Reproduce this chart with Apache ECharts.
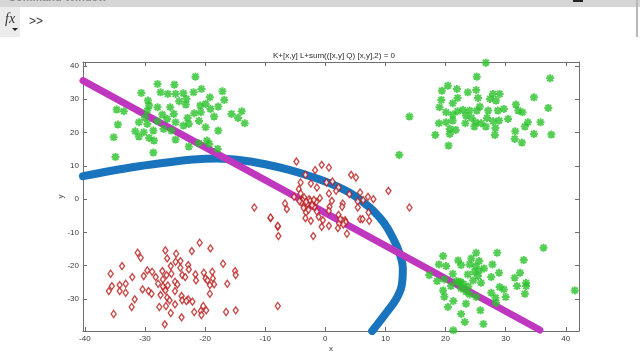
<!DOCTYPE html>
<html>
<head>
<meta charset="utf-8">
<script src="https://cdn.jsdelivr.net/npm/echarts@6/dist/echarts.min.js"></script>
<style>
html,body{margin:0;padding:0;background:#fff;}
#c{width:640px;height:360px;}
</style>
</head>
<body>
<div id="c"></div>
<script>
var titleText = 'K+[x,y] L+sum(([x,y] Q) [x,y],2) = 0';
var xTicks = [-40, -30, -20, -10, 0, 10, 20, 30, 40];
var yTicks = [-30, -20, -10, 0, 10, 20, 30, 40];

var greenUpperLeft = [
[-21.6,36.8],[-27.9,34.6],[-25.1,34.4],[-30.6,31.9],[-27.4,32.1],[-26.2,31.6],[-24.9,31.6],[-23.6,31.8],
[-21.9,32.1],[-20.6,33.1],[-17.1,32.4],[-19.2,30.6],[-16.8,29.8],[-29.5,29.6],[-24.3,29.4],[-23.1,30.1],
[-29.3,28.1],[-27.9,27.6],[-25.8,27.6],[-23.2,28.4],[-20.8,28.1],[-19.9,28.6],[-19.1,27.1],[-17.8,27.8],
[-34.7,26.9],[-33.5,26.4],[-29.6,26.6],[-27.1,25.4],[-25.2,25.6],[-21.8,25.8],[-20.7,26.1],[-15.6,25.6],
[-13.9,26.4],[-14.5,24.4],[-13.4,22.8],[-34.5,22.4],[-31.0,23.1],[-29.6,22.6],[-27.9,23.4],[-26.3,24.1],
[-24.9,23.1],[-22.9,24.4],[-22.7,22.6],[-23.6,22.1],[-19.9,21.6],[-31.6,20.4],[-30.2,20.1],[-28.6,20.6],
[-25.6,20.6],[-26.9,21.1],[-17.8,20.6],[-35.2,18.6],[-31.0,18.8],[-29.3,18.4],[-28.5,17.6],[-24.9,17.9],
[-19.7,17.6],[-19.3,16.6],[-22.7,15.8],[-21.05,16.8],[-17.9,15.1],[-28.6,14.0],[-34.9,12.7],[-30.0,24.5],
[-21.0,23.5],[-18.5,24.8]
];
var greenUpperRight = [
[26.7,41.0],[25.2,36.8],[37.4,36.3],[20.4,34.1],[19.4,32.6],[21.9,33.1],[23.7,32.1],[25.1,32.8],
[27.9,31.6],[29.0,31.6],[19.3,29.8],[22.0,30.4],[25.4,30.4],[27.4,30.1],[28.4,29.6],[34.7,30.6],
[21.2,28.8],[19.0,27.6],[25.7,27.8],[31.7,28.4],[37.1,27.4],[20.1,26.1],[22.0,26.4],[22.9,26.8],
[24.0,26.6],[25.2,26.6],[27.1,26.6],[28.7,26.6],[29.7,27.1],[32.1,26.6],[32.8,26.1],[14.0,24.8],
[21.2,25.4],[23.4,25.1],[24.3,24.4],[26.9,24.4],[30.4,24.1],[18.9,22.8],[20.1,23.1],[21.2,23.6],
[23.3,22.8],[25.0,23.1],[25.9,22.8],[27.9,23.4],[28.9,23.6],[33.7,23.1],[35.8,23.1],[24.8,21.8],
[26.7,21.8],[28.3,21.4],[33.2,21.8],[20.7,21.1],[21.7,20.8],[20.7,19.6],[31.6,20.4],[34.7,19.6],
[37.6,19.4],[18.3,19.3],[28.2,19.3],[31.5,18.1],[32.7,17.0],[20.5,16.1],[12.3,13.3]
];
var greenLowerRight = [
[36.3,-14.6],[19.6,-17.1],[25.1,-16.1],[28.6,-16.1],[24.3,-17.8],[22.1,-18.4],[25.6,-18.6],[33.0,-18.3],
[18.9,-19.6],[20.1,-20.1],[22.6,-19.8],[24.0,-19.6],[25.0,-20.1],[27.8,-19.6],[25.6,-21.4],[28.9,-22.1],
[32.4,-22.1],[17.3,-22.8],[21.2,-22.4],[23.7,-22.6],[25.4,-23.1],[27.6,-23.4],[31.5,-23.6],[18.6,-24.6],
[19.8,-24.1],[21.8,-24.6],[22.5,-24.8],[24.6,-24.4],[25.9,-25.1],[33.4,-25.1],[20.9,-26.1],[22.6,-26.8],
[29.0,-26.4],[29.7,-27.1],[31.9,-26.1],[33.4,-26.1],[19.6,-27.4],[23.4,-27.8],[24.0,-28.6],[27.6,-28.1],
[41.5,-27.4],[33.2,-28.4],[19.8,-29.3],[25.1,-29.4],[28.3,-29.6],[30.0,-29.4],[21.3,-30.6],[23.4,-31.4],
[28.4,-31.1],[20.4,-32.4],[25.8,-33.4],[22.6,-34.5],[23.2,-36.9],[26.3,-37.5],[21.3,-39.4],[23.0,-25.5],
[23.8,-26.2],[22.2,-25.0],[24.8,-21.8],[26.4,-20.8]
];
var redLowerLeft = [
[-20.9,-13.1],[-26.6,-15.4],[-22.2,-15.6],[-19.1,-14.8],[-24.8,-16.4],[-31.2,-16.1],[-30.7,-17.6],[-26.3,-17.8],
[-24.9,-18.8],[-24.1,-18.6],[-17.0,-19.4],[-33.8,-20.1],[-25.7,-20.1],[-22.8,-19.8],[-24.1,-20.6],[-22.7,-21.1],
[-29.6,-21.4],[-28.8,-21.8],[-27.1,-21.6],[-20.2,-22.1],[-18.8,-21.8],[-35.7,-22.4],[-30.2,-23.1],[-28.2,-23.4],
[-26.4,-22.8],[-25.6,-22.4],[-23.8,-22.8],[-21.6,-22.6],[-32.1,-23.4],[-23.3,-23.4],[-19.9,-23.8],[-18.7,-23.8],
[-15.0,-21.6],[-14.9,-22.8],[-27.0,-24.1],[-21.5,-24.4],[-19.6,-24.4],[-25.0,-24.8],[-27.8,-25.4],[-34.2,-25.8],
[-33.2,-25.4],[-35.5,-26.1],[-24.6,-25.6],[-18.5,-25.6],[-16.3,-25.4],[-26.8,-26.8],[-19.2,-25.8],[-30.4,-27.1],
[-29.4,-27.6],[-26.6,-27.4],[-25.0,-27.6],[-36.0,-27.6],[-34.2,-27.6],[-33.2,-28.1],[-28.9,-28.4],[-19.2,-28.4],
[-27.4,-28.8],[-23.9,-29.1],[-26.3,-29.6],[-31.7,-30.1],[-25.9,-30.4],[-22.8,-30.1],[-23.8,-30.4],[-23.1,-30.6],
[-25.0,-31.6],[-22.1,-30.8],[-20.3,-32.1],[-32.2,-32.4],[-27.6,-32.4],[-26.5,-32.1],[-21.8,-33.9],[-20.7,-33.6],
[-20.6,-34.8],[-19.8,-33.4],[-35.2,-34.5],[-25.7,-34.2],[-16.5,-33.9],[-14.9,-33.4],[-23.9,-35.5],[-26.7,-37.6],
[-7.9,-32.1],[-27.0,-26.2],[-26.2,-25.9]
];
var redCenter = [
[-4.8,11.3],[-0.6,10.3],[0.6,9.5],[-1.7,8.7],[-3.3,7.3],[4.3,7.3],[5.1,6.5],[-4.1,5.0],
[-2.4,4.7],[0.2,5.0],[1.2,5.3],[2.2,3.5],[1.8,2.5],[-1.4,3.5],[-4.4,3.0],[-4.1,1.7],
[0.6,1.7],[4.0,1.5],[5.8,2.0],[7.1,0.7],[8.0,0.0],[10.5,2.5],[-5.2,0.7],[-2.7,0.0],
[-0.9,0.3],[1.1,-0.5],[2.9,-1.3],[5.4,-0.7],[6.3,-0.3],[-6.7,-1.3],[-11.8,-2.5],[-6.4,-3.0],
[-3.5,-1.7],[-3.0,-2.5],[-1.8,-2.3],[0.7,-2.3],[2.8,-2.3],[5.4,-2.5],[14.0,-2.5],[-3.2,-4.0],
[-1.4,-3.7],[0.6,-3.5],[2.2,-4.7],[7.2,-4.0],[-9.1,-5.7],[-3.3,-5.7],[-2.4,-6.5],[-1.1,-5.3],
[-0.4,-6.3],[3.3,-6.3],[5.8,-6.0],[6.2,-6.0],[7.3,-6.5],[2.3,-7.3],[0.6,-8.0],[-0.6,-8.3],
[2.1,-8.7],[-7.9,-8.3],[3.6,-10.4],[-7.8,-11.1],[-2.0,-11.1],[-3.5,0.5],[-2.5,-0.5],[-2.0,-1.0],
[-3.0,-1.5],[-1.5,-0.8],[2.9,-6.5],[3.4,-6.9],[-9.1,-5.5],[-7.9,-8.0],[-3.8,-0.3],[-4.0,-1.0],
[-3.2,-0.8],[-2.2,-1.8],[-2.8,-3.2],[-1.9,-0.2],[-3.6,-2.6],[2.5,-6.0],[3.0,-7.6],[-4.3,-0.6]
];
var decisionLine = [[-40.3, 35.6], [35.7, -39.3]];
var boundaryCurve = [
[-40.3,6.9],[-36,8.4],[-31,9.9],[-26,11.1],[-22,11.9],[-18,12.2],[-14,11.7],[-10,10.5],
[-6,8.8],[-2,6.6],[1,4.6],[4,2.0],[6,-0.5],[8,-3.5],[9.8,-7.2],[11.2,-11.5],
[12.3,-16],[12.9,-21],[12.7,-26],[11.8,-30],[10.2,-34],[7.8,-39.6]
];

var FONT = '"Liberation Sans", Arial, sans-serif';
var axisCol = '#6e6e6e';
var asterisk = 'path://M0,-1L0,1M-1,0L1,0M-0.72,-0.72L0.72,0.72M-0.72,0.72L0.72,-0.72';

function xAx(pos, showLabel) {
  return {
    type: 'value', position: pos, min: -40.3, max: 42.2,
    axisLine: {show: true, onZero: false, lineStyle: {color: axisCol, width: 1}},
    axisTick: {show: true, inside: true, length: 4, customValues: xTicks, lineStyle: {color: axisCol}},
    axisLabel: {show: showLabel, customValues: xTicks, fontSize: 8, color: '#3a3a3a', fontFamily: FONT, margin: 4},
    splitLine: {show: false},
    name: showLabel ? 'x' : '', nameLocation: 'middle', nameGap: 14, nameMoveOverlap: false,
    nameTextStyle: {fontSize: 8, color: '#3a3a3a', fontFamily: FONT}
  };
}
function yAx(pos, showLabel) {
  return {
    type: 'value', position: pos, min: -39.6, max: 41.2,
    axisLine: {show: true, onZero: false, lineStyle: {color: axisCol, width: 1}},
    axisTick: {show: true, inside: true, length: 4, customValues: yTicks, lineStyle: {color: axisCol}},
    axisLabel: {show: showLabel, customValues: yTicks, fontSize: 8, color: '#3a3a3a', fontFamily: FONT, margin: 4},
    splitLine: {show: false},
    name: showLabel ? 'y' : '', nameLocation: 'middle', nameGap: 18, nameRotate: 90, nameMoveOverlap: false,
    nameTextStyle: {fontSize: 8, color: '#3a3a3a', fontFamily: FONT}
  };
}

var greenStyle = {
  type: 'scatter', symbol: asterisk, symbolSize: 8, z: 5,
  itemStyle: {color: 'rgba(0,0,0,0)', borderColor: '#2bc22b', borderWidth: 2}
};
var redStyle = {
  type: 'scatter', symbol: 'diamond', symbolSize: [5, 7], z: 5,
  itemStyle: {color: '#ffffff', borderColor: '#b81c1c', borderWidth: 1.4}
};

var chart = echarts.init(document.getElementById('c'), null, {renderer: 'canvas'});
chart.setOption({
  animation: false,
  backgroundColor: '#ffffff',
  title: {
    text: titleText, left: 329, top: 47, textAlign: 'center',
    textStyle: {fontSize: 8, fontWeight: 'normal', color: '#2a2a2a', fontFamily: FONT}
  },
  grid: {left: 83, top: 62, right: 61, bottom: 29, containLabel: false},
  xAxis: [xAx('bottom', true), xAx('top', false)],
  yAxis: [yAx('left', true), yAx('right', false)],
  series: [
    {type: 'line', data: boundaryCurve, showSymbol: false, smooth: 0.4, z: 3,
     lineStyle: {color: '#1a74bd', width: 8, cap: 'round'}},
    {type: 'line', data: decisionLine, showSymbol: false, z: 4,
     lineStyle: {color: '#bf36bf', width: 7, cap: 'round'}},
    Object.assign({data: redLowerLeft}, redStyle),
    Object.assign({data: redCenter}, redStyle),
    Object.assign({data: greenUpperLeft}, greenStyle),
    Object.assign({data: greenUpperRight}, greenStyle),
    Object.assign({data: greenLowerRight}, greenStyle)
  ],
  graphic: [
    {type: 'rect', left: 0, top: 0, shape: {width: 640, height: 7}, style: {fill: '#d6d6d6'}, z: 10},
    {type: 'text', left: 8, top: -8, style: {text: 'Command Window', font: 'bold 11px ' + FONT, fill: '#8a8a8a'}, z: 11},
    {type: 'rect', left: 573, top: 0, shape: {width: 10, height: 2}, style: {fill: '#222'}, z: 11},
    {type: 'rect', left: 0, top: 7, shape: {width: 20, height: 30}, style: {fill: '#ececec'}, z: 10},
    {type: 'text', left: 5, top: 12, style: {text: 'fx', font: 'italic 14px "Liberation Serif", serif', fill: '#333'}, z: 11},
    {type: 'polygon', shape: {points: [[12, 28], [18, 28], [15, 31]]}, style: {fill: '#222'}, z: 11},
    {type: 'text', left: 29, top: 16, style: {text: '>>', font: '12px ' + FONT, fill: '#333'}, z: 11},
    {type: 'rect', left: 636, top: 0, shape: {width: 2, height: 37}, style: {fill: '#b8b8b8'}, z: 10}
  ]
});
</script>
</body>
</html>
